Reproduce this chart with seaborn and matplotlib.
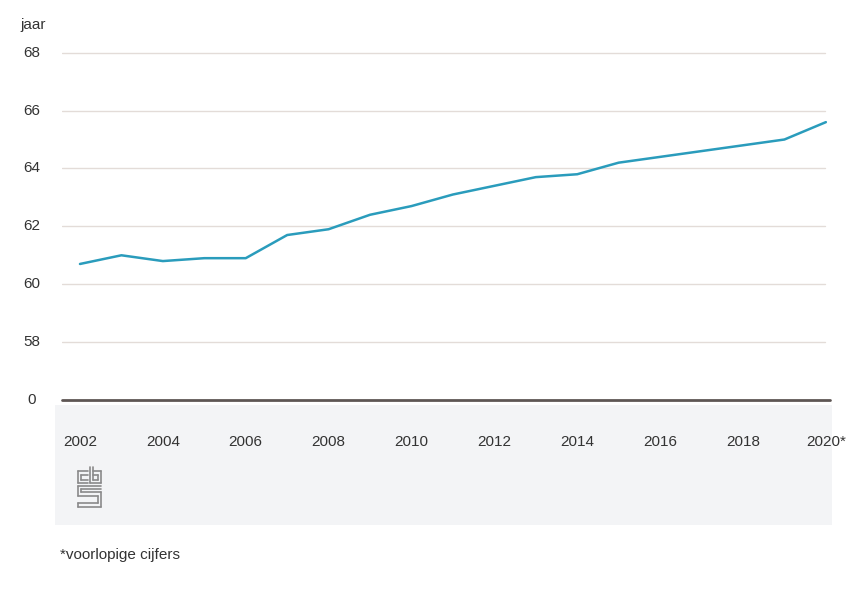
import matplotlib
matplotlib.use("Agg")
import matplotlib.pyplot as plt
import seaborn as sns
import pandas as pd
from matplotlib.patches import Rectangle
from matplotlib.lines import Line2D

years = [2002, 2003, 2004, 2005, 2006, 2007, 2008, 2009, 2010, 2011,
         2012, 2013, 2014, 2015, 2016, 2017, 2018, 2019, 2020]
age = [60.7, 61.0, 60.8, 60.9, 60.9, 61.7, 61.9, 62.4, 62.7, 63.1,
       63.4, 63.7, 63.8, 64.2, 64.4, 64.6, 64.8, 65.0, 65.6]
x_ticks = [2002, 2004, 2006, 2008, 2010, 2012, 2014, 2016, 2018, 2020]
x_tick_labels = ["2002", "2004", "2006", "2008", "2010", "2012", "2014", "2016", "2018", "2020*"]
y_ticks = [56, 58, 60, 62, 64, 66, 68]
y_tick_labels = ["0", "58", "60", "62", "64", "66", "68"]

df = pd.DataFrame({"jaar": years, "leeftijd": age})

sns.set_theme(style="white")
plt.rcParams["font.family"] = ["Liberation Sans", "DejaVu Sans"]

W, H = 854, 590
fig = plt.figure(figsize=(W / 100, H / 100), dpi=100)
fig.patch.set_facecolor("white")

# light grey band under the axis (background of the source image)
band = Rectangle((55 / W, 1 - 525 / H), (832 - 55) / W, (525 - 405) / H,
                 transform=fig.transFigure, facecolor="#f3f4f6",
                 edgecolor="none", zorder=-5)
fig.patches.append(band)

ax = fig.add_axes([62 / W, 1 - 400 / H, (830 - 62) / W, (400 - 44) / H])
ax.set_zorder(3)
ax.set_facecolor("none")

sns.lineplot(data=df, x="jaar", y="leeftijd", ax=ax, color="#2a9cbc",
             linewidth=1.8, zorder=3)

ax.set_xlim(2001.566, 2020.1)
ax.set_ylim(56, 68.3)

for yt in y_ticks[1:]:
    ax.axhline(yt, color="#e3dcd8", linewidth=1.0, zorder=1, xmax=(825 - 62) / (830 - 62))
ax.axhline(56, color="#5e5654", linewidth=2.0, zorder=2, clip_on=False)

ax.set_xticks(x_ticks)
ax.set_xticklabels(x_tick_labels)
ax.set_yticks(y_ticks)
ax.set_yticklabels([])
ax.tick_params(axis="x", length=0, pad=25, labelsize=11, labelcolor="#333333")
ax.tick_params(axis="y", length=0)
for s in ax.spines.values():
    s.set_visible(False)
ax.set_xlabel("")
ax.set_ylabel("")

# y tick labels centered at a fixed x position
for yt, lab in zip(y_ticks, y_tick_labels):
    ax.annotate(lab, xy=(0, yt), xycoords=("axes fraction", "data"),
                xytext=(-30, 0), textcoords="offset pixels",
                ha="center", va="center", fontsize=11, color="#333333")

fig.text(20 / W, 1 - 25 / H, "jaar", ha="left", va="center", fontsize=11, color="#333333")
fig.text(60 / W, 1 - 555 / H, "*voorlopige cijfers", ha="left", va="center",
         fontsize=11, color="#333333")

# simple CBS logo
logo_c = "#8a8a8a"
def seg(x0, y0, x1, y1):
    fig.lines.append(Line2D([x0 / W, x1 / W], [1 - y0 / H, 1 - y1 / H],
                            transform=fig.transFigure, color=logo_c, linewidth=1.2))
# "c"
seg(78, 471, 88, 471); seg(78, 471, 78, 483); seg(78, 483, 88, 483)
seg(81, 475, 88, 475); seg(81, 475, 81, 480); seg(81, 480, 88, 480)
# "b"
seg(90, 467, 90, 483); seg(90, 483, 101, 483); seg(101, 483, 101, 471); seg(101, 471, 93, 471)
seg(93, 467, 93, 480); seg(93, 480, 98, 480); seg(98, 480, 98, 475); seg(98, 475, 93, 475)
# "s"
seg(78, 486, 101, 486); seg(78, 486, 78, 496); seg(78, 496, 98, 496); seg(98, 496, 98, 503)
seg(98, 503, 78, 503); seg(78, 503, 78, 507); seg(78, 507, 101, 507); seg(101, 507, 101, 492)
seg(101, 492, 81, 492); seg(81, 492, 81, 489); seg(81, 489, 101, 489)

fig.savefig("out.png", dpi=100, facecolor="white")
